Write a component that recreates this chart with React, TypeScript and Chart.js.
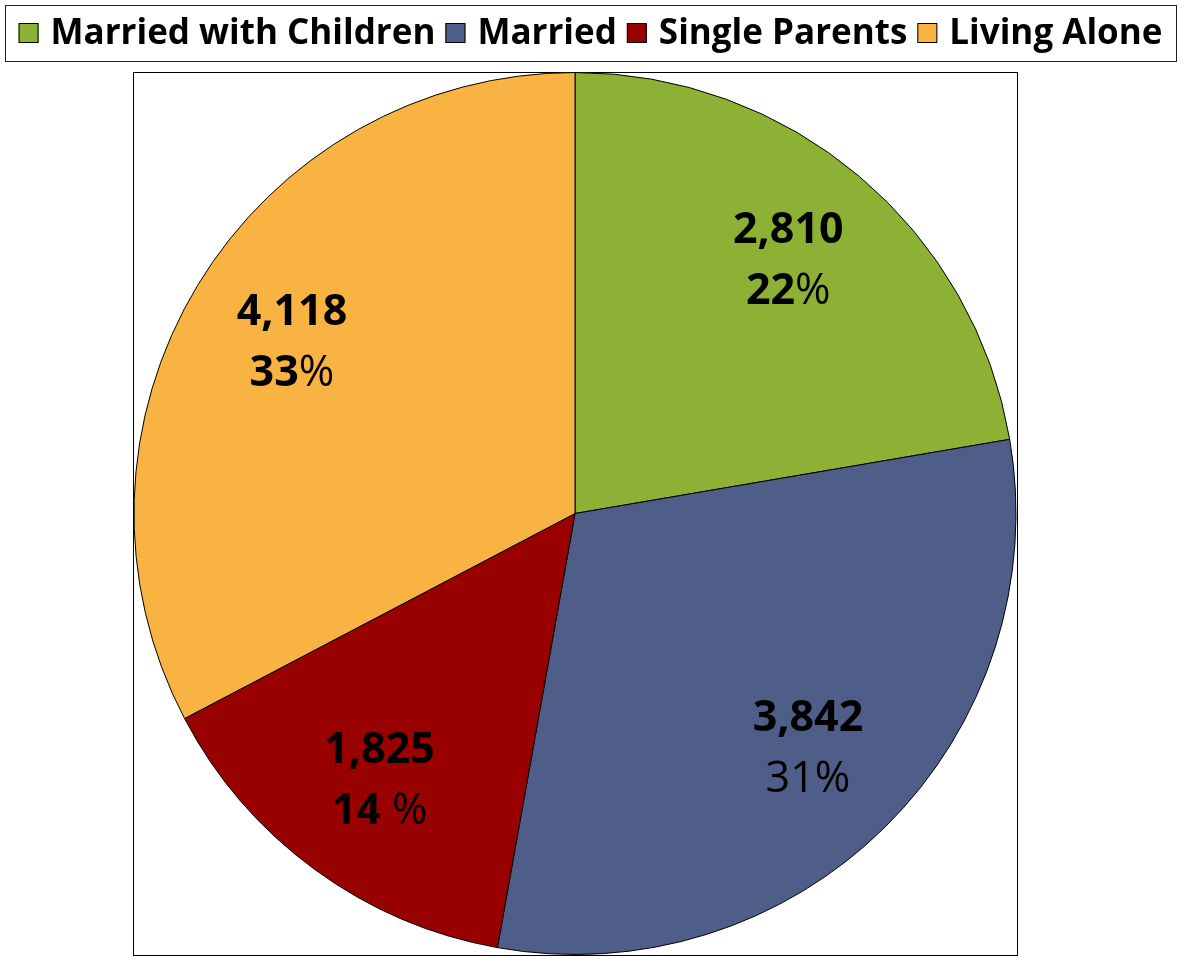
import React, { useEffect, useRef } from "react";
import { Chart, registerables } from "chart.js";

Chart.register(...registerables);

const categories = ["Married with Children", "Married", "Single Parents", "Living Alone"];
const values = [2810, 3842, 1825, 4118];
const valueLabels = ["2,810", "3,842", "1,825", "4,118"];
const percentNumbers = ["22", "31", "14", "33"];
const percentSeparators = ["", "", " ", ""];
const percentNumberBold = [true, false, true, true];
const colors = ["#8DB135", "#4F5E88", "#990000", "#F9B342"];

const FONT = "'Open Sans', Lato, sans-serif";

const framePlugin = {
  id: "frame",
  beforeDraw(chart: any) {
    const { ctx, width, height, chartArea } = chart;
    ctx.save();
    ctx.fillStyle = "#ffffff";
    ctx.fillRect(0, 0, width, height);
    ctx.strokeStyle = "#000000";
    ctx.lineWidth = 1;
    ctx.strokeRect(
      Math.round(chartArea.left) + 0.5,
      Math.round(chartArea.top) + 0.5,
      Math.round(chartArea.width),
      Math.round(chartArea.height)
    );
    ctx.restore();
  },
  afterDraw(chart: any) {
    const { ctx } = chart;
    ctx.save();
    // legend box
    const lx = 5, ly = 5, lw = 1171, lh = 56;
    ctx.strokeStyle = "#222222";
    ctx.lineWidth = 1;
    ctx.strokeRect(lx + 0.5, ly + 0.5, lw, lh);
    ctx.font = `bold 35px ${FONT}`;
    const box = 20, gapText = 12, gapItem = 10;
    const widths = categories.map((c) => ctx.measureText(c).width);
    const total = widths.reduce((a, b) => a + b, 0) + categories.length * (box + gapText) + (categories.length - 1) * gapItem;
    let x = lx + lw / 2 - total / 2;
    const cy = ly + lh / 2;
    ctx.textBaseline = "middle";
    ctx.textAlign = "left";
    categories.forEach((c, i) => {
      ctx.fillStyle = colors[i];
      ctx.fillRect(x, cy - box / 2, box, box);
      ctx.strokeStyle = "#000000";
      ctx.strokeRect(x + 0.5, cy - box / 2 + 0.5, box - 1, box - 1);
      x += box + gapText;
      ctx.fillStyle = "#000000";
      ctx.fillText(c, x, cy + 1);
      x += widths[i] + gapItem;
    });

    // data labels
    const meta = chart.getDatasetMeta(0);
    meta.data.forEach((arc: any, i: number) => {
      const mid = (arc.startAngle + arc.endAngle) / 2;
      const r = arc.outerRadius * 0.75;
      const px = arc.x + Math.cos(mid) * r;
      const py = arc.y + Math.sin(mid) * r;
      ctx.fillStyle = "#000000";
      ctx.textAlign = "center";
      ctx.textBaseline = "middle";
      ctx.font = `bold 43px ${FONT}`;
      ctx.fillText(valueLabels[i], px, py - 30);
      const numFont = `${percentNumberBold[i] ? "bold " : ""}43px ${FONT}`;
      const pctFont = `43px ${FONT}`;
      ctx.font = numFont;
      const w1 = ctx.measureText(percentNumbers[i]).width;
      ctx.font = pctFont;
      const tail = percentSeparators[i] + "%";
      const w2 = ctx.measureText(tail).width;
      const start = px - (w1 + w2) / 2;
      ctx.textAlign = "left";
      ctx.font = numFont;
      ctx.fillText(percentNumbers[i], start, py + 31);
      ctx.font = pctFont;
      ctx.fillText(tail, start + w1, py + 31);
    });
    ctx.restore();
  },
};

export default function App() {
  const ref = useRef<HTMLCanvasElement | null>(null);
  useEffect(() => {
    if (!ref.current) return;
    const chart = new Chart(ref.current, {
      type: "pie",
      data: {
        labels: categories,
        datasets: [
          {
            data: values,
            backgroundColor: colors,
            borderColor: "#000000",
            borderWidth: 1,
          },
        ],
      },
      options: {
        responsive: false,
        animation: false,
        layout: { padding: { top: 72, left: 133, right: 165, bottom: 4 } },
        plugins: {
          legend: { display: false },
          tooltip: { enabled: false },
        },
      },
      plugins: [framePlugin],
    });
    return () => chart.destroy();
  }, []);
  return (
    <div style={{ position: "absolute", left: 0, top: 0, width: 1182, height: 959, background: "#fff" }}>
      <canvas ref={ref} width={1182} height={959} style={{ width: 1182, height: 959, display: "block" }} />
    </div>
  );
}
